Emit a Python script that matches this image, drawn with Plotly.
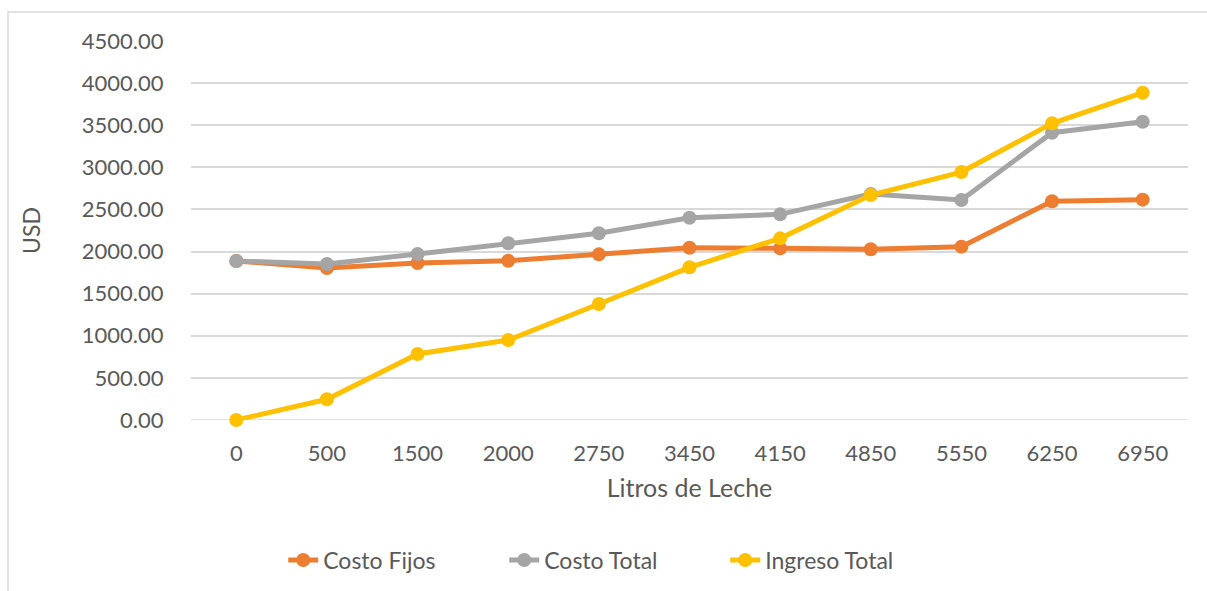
import plotly.graph_objects as go

litros = ["0", "500", "1500", "2000", "2750", "3450", "4150", "4850", "5550", "6250", "6950"]
costo_fijos = [1888, 1805, 1864, 1891, 1967, 2046, 2038, 2027, 2058, 2597, 2616]
costo_total = [1888, 1852, 1970, 2098, 2217, 2402, 2442, 2683, 2612, 3411, 3542]
ingreso_total = [0, 246, 784, 950, 1377, 1813, 2157, 2671, 2944, 3522, 3886]
y_ticks = [0, 500, 1000, 1500, 2000, 2500, 3000, 3500, 4000, 4500]

FONT = "Lato"
TXT = "#595959"

fig = go.Figure()
series = [("Costo Fijos", costo_fijos, "#ED7D31"),
          ("Costo Total", costo_total, "#A5A5A5"),
          ("Ingreso Total", ingreso_total, "#FFC000")]
for name, vals, col in series:
    fig.add_trace(go.Scatter(
        x=litros, y=vals, name=name, mode="lines+markers", cliponaxis=False,
        line=dict(color=col, width=5), marker=dict(color=col, size=14),
    ))

fig.update_layout(
    width=1207, height=591, autosize=False,
    margin=dict(l=191, r=19, t=41, b=171, autoexpand=False),
    paper_bgcolor="white", plot_bgcolor="white",
    font=dict(family=FONT, color=TXT, size=22),
    showlegend=True,
    legend=dict(orientation="h", x=0.425, xanchor="center", y=-140/379, yanchor="middle",
                font=dict(size=23, color=TXT), entrywidth=176, entrywidthmode="pixels",
                traceorder="normal"),
    xaxis=dict(type="category", range=[-0.5, 10.5], showgrid=False, zeroline=False,
               showline=False, ticks="outside", ticklen=14, tickcolor="rgba(0,0,0,0)",
               tickfont=dict(size=22, color=TXT), automargin=False,
               title=dict(text="Litros de Leche", font=dict(size=25, color=TXT), standoff=14)),
    yaxis=dict(range=[0, 4500], tickvals=y_ticks,
               ticktext=[f"{v:.2f}" for v in y_ticks],
               showgrid=True, gridcolor="#D9D9D9", gridwidth=1.5, zeroline=False,
               showline=False, ticks="outside", ticklen=22, tickcolor="rgba(0,0,0,0)",
               tickfont=dict(size=22, color=TXT), automargin=False,
               title=dict(text="USD", font=dict(size=23, color=TXT), standoff=34)),
    shapes=[dict(type="rect", xref="paper", yref="paper",
                 x0=-183/997, x1=1.05, y0=-0.6, y1=1 + 29/379,
                 line=dict(color="#D9D9D9", width=1.5), fillcolor="rgba(0,0,0,0)", layer="below"),
            dict(type="line", xref="paper", yref="y", x0=0, x1=1, y0=0, y1=0,
                 line=dict(color="#D9D9D9", width=1.5), layer="below")],
)

fig.write_html("out.html")
